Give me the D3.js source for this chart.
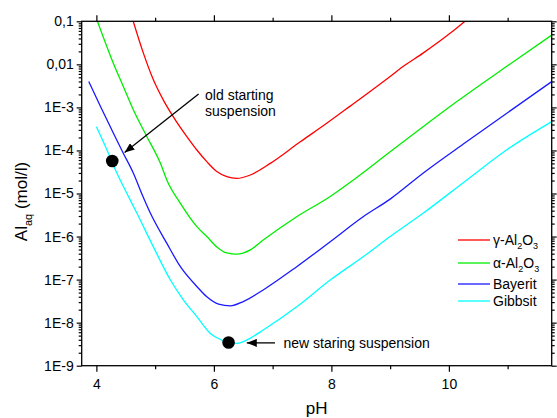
<!DOCTYPE html>
<html lang="en">
<head>
    <meta charset="UTF-8">
    <title>Al solubility vs pH</title>
    <style>
        body {
            margin: 0;
            padding: 0;
            background-color: #ffffff;
            font-family: "Liberation Sans", Arial, sans-serif;
        }
        svg { display: block; }
    </style>
</head>
<body>

<div id="chart"></div>

<script src="https://d3js.org/d3.v7.min.js"></script>
<script>
    // Data: pH and log10 of dissolved Al (mol/l)
    const gammaPH  = [4.62, 4.80, 4.97, 5.14, 5.31, 5.54, 5.71, 5.88, 6.05, 6.22, 6.39, 6.62, 6.96, 7.47, 7.92, 8.32, 9.00, 9.22, 9.56, 10.02, 10.30];
    const gammaLog = [-0.97, -1.74, -2.36, -2.83, -3.22, -3.68, -3.99, -4.26, -4.49, -4.61, -4.65, -4.57, -4.30, -3.80, -3.37, -2.97, -2.28, -2.05, -1.74, -1.28, -0.97];

    const alphaPH  = [4.01, 4.29, 4.46, 4.63, 4.86, 5.09, 5.20, 5.43, 5.71, 5.88, 6.05, 6.22, 6.39, 6.62, 6.84, 7.41, 7.98, 8.37, 9.00, 9.56, 10.13, 10.98, 11.75];
    const alphaLog = [-0.97, -1.98, -2.52, -3.06, -3.68, -4.30, -4.69, -5.23, -5.77, -6.00, -6.24, -6.38, -6.41, -6.31, -6.08, -5.54, -5.07, -4.69, -4.03, -3.45, -2.87, -2.05, -1.32];

    const bayeritPH  = [3.87, 4.07, 4.29, 4.46, 4.63, 4.78, 4.92, 5.20, 5.43, 5.71, 5.88, 6.08, 6.28, 6.50, 6.84, 7.41, 7.98, 8.54, 9.00, 9.56, 10.30, 10.98, 11.75];
    const bayeritLog = [-2.40, -2.98, -3.60, -4.07, -4.53, -5.03, -5.46, -6.16, -6.70, -7.16, -7.40, -7.57, -7.61, -7.51, -7.24, -6.70, -6.12, -5.54, -5.13, -4.53, -3.80, -3.14, -2.40];

    const gibbsitPH  = [4.00, 4.18, 4.35, 4.52, 4.69, 4.97, 5.26, 5.48, 5.71, 5.94, 6.11, 6.25, 6.39, 6.62, 6.84, 7.41, 7.98, 8.54, 9.00, 9.56, 10.30, 10.98, 11.75];
    const gibbsitLog = [-3.45, -3.99, -4.53, -5.00, -5.46, -6.24, -7.01, -7.47, -7.86, -8.25, -8.39, -8.47, -8.48, -8.36, -8.17, -7.63, -7.01, -6.47, -6.00, -5.46, -4.69, -3.99, -3.33];

    const seriesNames  = ["γ-Al2O3", "α-Al2O3", "Bayerit", "Gibbsit"];
    const seriesColors = ["#ff0000", "#00ee00", "#1a1aff", "#00ffff"];

    const yTickValues = [1e-1, 1e-2, 1e-3, 1e-4, 1e-5, 1e-6, 1e-7, 1e-8, 1e-9];
    const yTickLabels = ["0,1", "0,01", "1E-3", "1E-4", "1E-5", "1E-6", "1E-7", "1E-8", "1E-9"];
    const xTickValues = [4, 6, 8, 10];
    const xMinorValues = [5, 7, 9, 11];

    // marked suspensions (pH, log10 Al)
    const oldPoint = { ph: 4.27, log: -4.245 };
    const newPoint = { ph: 6.25, log: -8.46 };

    // Layout
    const width = 557, height = 418;
    const margin = { top: 21.3, right: 5.3, bottom: 52.3, left: 81.7 };
    const innerW = width - margin.left - margin.right;
    const innerH = height - margin.top - margin.bottom;

    const svg = d3.select("#chart").append("svg")
        .attr("width", width)
        .attr("height", height);

    const g = svg.append("g")
        .attr("transform", `translate(${margin.left},${margin.top})`);

    const x = d3.scaleLinear().domain([3.75, 11.75]).range([0, innerW]);
    const y = d3.scaleLog().domain([1e-9, 1e-1]).range([innerH, 0]);

    // minor log ticks 2..9 per decade
    const yMinor = [];
    for (let e = -9; e < -1; e++) {
        for (let m = 2; m <= 9; m++) yMinor.push(m * Math.pow(10, e));
    }

    g.append("defs").append("clipPath").attr("id", "clip")
        .append("rect").attr("width", innerW).attr("height", innerH);

    // Curves
    const allSeries = [
        { ph: gammaPH, log: gammaLog },
        { ph: alphaPH, log: alphaLog },
        { ph: bayeritPH, log: bayeritLog },
        { ph: gibbsitPH, log: gibbsitLog }
    ];

    const line = d3.line()
        .curve(d3.curveMonotoneX)
        .x(d => x(d[0]))
        .y(d => y(Math.pow(10, d[1])));

    g.append("g").attr("clip-path", "url(#clip)")
        .selectAll("path")
        .data(allSeries)
        .enter().append("path")
        .attr("fill", "none")
        .attr("stroke", (d, i) => seriesColors[i])
        .attr("stroke-width", 1.3)
        .attr("d", d => line(d.ph.map((p, i) => [p, d.log[i]])));

    // Axes
    function styleAxis(sel) {
        sel.select(".domain").remove();
        sel.selectAll(".tick line").attr("stroke", "#000").attr("stroke-width", 1.2);
        sel.selectAll(".tick text")
            .attr("fill", "#000")
            .style("font-size", "14px")
            .style("font-family", '"Liberation Sans", Arial, sans-serif');
    }

    g.append("g")
        .call(d3.axisLeft(y).tickValues(yTickValues).tickSize(5).tickPadding(3)
            .tickFormat((d, i) => yTickLabels[i]))
        .call(styleAxis);
    g.append("g")
        .call(d3.axisLeft(y).tickValues(yMinor).tickSize(3).tickFormat(""))
        .call(styleAxis);
    g.append("g").attr("transform", `translate(${innerW},0)`)
        .call(d3.axisRight(y).tickValues(yTickValues).tickSize(5).tickFormat(""))
        .call(styleAxis);
    g.append("g").attr("transform", `translate(${innerW},0)`)
        .call(d3.axisRight(y).tickValues(yMinor).tickSize(3).tickFormat(""))
        .call(styleAxis);

    g.append("g").attr("transform", `translate(0,${innerH})`)
        .call(d3.axisBottom(x).tickValues(xTickValues).tickSize(6).tickPadding(7)
            .tickFormat(d3.format("d")))
        .call(styleAxis);
    g.append("g").attr("transform", `translate(0,${innerH})`)
        .call(d3.axisBottom(x).tickValues(xMinorValues).tickSize(3.5).tickFormat(""))
        .call(styleAxis);
    g.append("g")
        .call(d3.axisTop(x).tickValues(xTickValues).tickSize(6).tickFormat(""))
        .call(styleAxis);
    g.append("g")
        .call(d3.axisTop(x).tickValues(xMinorValues).tickSize(3.5).tickFormat(""))
        .call(styleAxis);

    // Frame
    g.append("rect")
        .attr("width", innerW)
        .attr("height", innerH)
        .attr("fill", "none")
        .attr("stroke", "#000")
        .attr("stroke-width", 1.3);

    // Axis titles
    svg.append("text")
        .attr("x", margin.left + innerW / 2)
        .attr("y", 414)
        .attr("text-anchor", "middle")
        .style("font-size", "17px")
        .text("pH");

    const yTitle = svg.append("text")
        .attr("transform", `translate(27,${margin.top + innerH / 2 + 8}) rotate(-90)`)
        .attr("text-anchor", "middle")
        .style("font-size", "17px");
    yTitle.append("tspan").text("Al");
    yTitle.append("tspan").attr("dy", 5).style("font-size", "11px").text("aq");
    yTitle.append("tspan").attr("dy", -5).text(" (mol/l)");

    // Legend
    const legend = g.append("g").attr("transform", `translate(${458 - margin.left},${240 - margin.top})`);
    const rowGap = [0, 23, 44, 61];
    seriesNames.forEach((name, i) => {
        const row = legend.append("g").attr("transform", `translate(0,${rowGap[i]})`);
        row.append("line")
            .attr("x1", 0).attr("x2", 32)
            .attr("stroke", seriesColors[i]).attr("stroke-width", 1.3);
        const t = row.append("text").attr("x", 35).attr("y", 5).style("font-size", "14px");
        if (name.includes("Al2O3")) {
            t.append("tspan").text(name.slice(0, 4));
            t.append("tspan").attr("dy", 4).style("font-size", "9px").text("2");
            t.append("tspan").attr("dy", -4).text("O");
            t.append("tspan").attr("dy", 4).style("font-size", "9px").text("3");
        } else {
            t.text(name);
        }
    });

    // Arrowhead
    svg.append("defs").append("marker")
        .attr("id", "arrow")
        .attr("viewBox", "0 0 10 8")
        .attr("refX", 10).attr("refY", 4)
        .attr("markerWidth", 10).attr("markerHeight", 8)
        .attr("markerUnits", "userSpaceOnUse")
        .attr("orient", "auto")
        .append("path").attr("d", "M0,0 L10,4 L0,8 Z").attr("fill", "#000");

    // Points
    g.selectAll("circle.mark")
        .data([oldPoint, newPoint])
        .enter().append("circle")
        .attr("class", "mark")
        .attr("cx", d => x(d.ph))
        .attr("cy", d => y(Math.pow(10, d.log)))
        .attr("r", 6.3)
        .attr("fill", "#000");

    // Annotations
    const oldArrow = { from: [5.74, -2.69], to: [4.48, -4.05] };
    const newArrow = { from: [7.04, -8.47], to: [6.56, -8.47] };
    [oldArrow, newArrow].forEach(a => {
        g.append("line")
            .attr("x1", x(a.from[0])).attr("y1", y(Math.pow(10, a.from[1])))
            .attr("x2", x(a.to[0])).attr("y2", y(Math.pow(10, a.to[1])))
            .attr("stroke", "#000").attr("stroke-width", 1.3)
            .attr("marker-end", "url(#arrow)");
    });

    const oldText = g.append("text")
        .attr("x", x(5.85)).attr("y", y(Math.pow(10, -2.83)))
        .style("font-size", "14px");
    oldText.append("tspan").text("old starting");
    oldText.append("tspan").attr("x", x(5.85)).attr("dy", 16).text("suspension");

    g.append("text")
        .attr("x", x(7.185)).attr("y", y(Math.pow(10, -8.58)))
        .style("font-size", "14px")
        .text("new staring suspension");
</script>

</body>
</html>
